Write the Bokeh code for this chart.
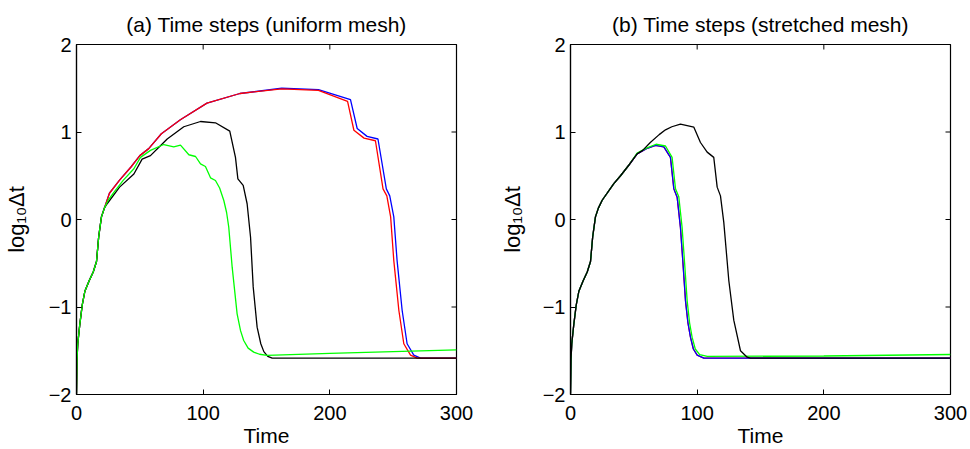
from bokeh.plotting import figure
from bokeh.layouts import row
from bokeh.models import Range1d, FixedTicker
from bokeh.embed import file_html
from bokeh.resources import INLINE

# ---------------- data ----------------
t_early = [0, 0.4, 1, 2.6, 4.5, 6.6, 10, 13.2, 15.8, 17.5, 19.7, 22]
y_early = [-1.99, -1.6, -1.42, -1.2, -0.98, -0.82, -0.7, -0.6, -0.48, -0.2, 0.03, 0.13]

# (a) uniform mesh
a_red_t = [26, 34, 43, 50, 57, 67, 82, 103, 129, 162, 191, 214, 219, 227, 236, 242, 245, 248,
           250.5, 254.5, 258.4, 263.7, 269, 300]
a_red_y = [0.3, 0.45, 0.6, 0.73, 0.81, 0.98, 1.14, 1.33, 1.44, 1.494, 1.475, 1.35, 1.02, 0.93, 0.90,
           0.35, 0.27, 0.03, -0.47, -1.04, -1.42, -1.55, -1.585, -1.585]
a_blue_t = [26, 34, 43, 50, 57, 67, 82, 103, 129, 162, 191, 216.3, 221.6, 229.4, 238, 244.6, 247.3,
            250.5, 253.1, 257.1, 261, 266.3, 271.6, 300]
a_blue_y = [0.3, 0.45, 0.6, 0.73, 0.81, 0.98, 1.14, 1.33, 1.44, 1.50, 1.485, 1.37, 1.04, 0.95, 0.92,
            0.35, 0.27, 0.03, -0.47, -1.04, -1.42, -1.55, -1.585, -1.585]
a_black_t = [24.2, 34, 45.3, 51.8, 58.4, 71.6, 84.7, 97.9, 109.7, 121, 125.5, 127.4, 131.6, 134.7,
             137.4, 139.5, 142.6, 145.5, 147.9, 151, 154.5, 300]
a_black_y = [0.18, 0.37, 0.52, 0.69, 0.73, 0.92, 1.06, 1.12, 1.105, 1.01, 0.71, 0.465, 0.39, 0.18,
             -0.2, -0.77, -1.23, -1.42, -1.51, -1.565, -1.585, -1.585]
a_green_t = [25, 29.5, 37, 45.3, 50.5, 58.4, 68.9, 76.8, 82.1, 88.7, 94, 97.9, 101.8, 105.8, 109.7,
             113, 116.3, 118.5, 120.2, 122.9, 126.8, 129.5, 132, 135.5, 139.9, 144.5, 150.4, 200, 300]
a_green_y = [0.22, 0.31, 0.45, 0.58, 0.71, 0.79, 0.857, 0.83, 0.85, 0.74, 0.72, 0.636, 0.606, 0.476,
             0.446, 0.36, 0.217, 0.08, -0.088, -0.545, -1.078, -1.27, -1.383, -1.47, -1.516, -1.54,
             -1.554, -1.53, -1.49]

# (b) stretched mesh
b_blue_t = [25, 34.2, 39.5, 46, 52.6, 60, 67.1, 73.7, 78.9, 81.6, 84.2, 86.8, 88.8, 90.8, 92.7,
            94.7, 97, 100, 105.3, 300]
b_blue_y = [0.22, 0.41, 0.5, 0.62, 0.75, 0.81, 0.846, 0.83, 0.71, 0.35, 0.255, -0.09, -0.5, -0.93,
            -1.18, -1.345, -1.48, -1.55, -1.585, -1.585]
b_red_t = list(b_blue_t)
b_red_y = list(b_blue_y)
b_green_t = [25, 34.2, 39.5, 46, 52.6, 60, 67.5, 75, 80.2, 82.9, 85.5, 88.1, 90.1, 92.1, 94, 96,
             98.5, 102, 108, 200, 300]
b_green_y = [0.22, 0.41, 0.5, 0.62, 0.76, 0.815, 0.86, 0.84, 0.71, 0.35, 0.26, -0.09, -0.5, -0.93,
             -1.18, -1.345, -1.48, -1.545, -1.565, -1.56, -1.543]
b_black_t = [25, 34.2, 39.5, 46, 52.6, 57, 63, 70, 75, 80, 86.8, 97.4, 102.6, 107.9, 113.1, 115.8,
             118.4, 121, 125, 128.9, 134.2, 139.5, 142, 300]
b_black_y = [0.22, 0.41, 0.5, 0.62, 0.75, 0.79, 0.88, 0.97, 1.025, 1.06, 1.09, 1.055, 0.88, 0.77,
             0.71, 0.37, 0.27, -0.03, -0.70, -1.15, -1.50, -1.574, -1.585, -1.585]

x_ticks = [0, 100, 200, 300]
y_ticks = [-2, -1, 0, 1, 2]
y_tick_labels = {-2: "\u22122", -1: "\u22121", 0: "0", 1: "1", 2: "2"}
titles = ["(a) Time steps (uniform mesh)", "(b) Time steps (stretched mesh)"]
x_label = "Time"
y_label = "log\u2081\u2080\u0394t"

FONT = "Liberation Sans"
RED, BLUE, GREEN, BLACK = "#ff0000", "#0000ff", "#00ff00", "#000000"


def make_fig(title, series, border_left, border_right, lab_standoff):
    p = figure(frame_width=380, frame_height=350, output_backend="svg", toolbar_location=None,
               x_range=Range1d(0, 300), y_range=Range1d(-2, 2),
               min_border_left=border_left, min_border_right=border_right,
               min_border_top=44, min_border_bottom=55)
    p.title.text = title
    p.title.align = "center"
    p.title.text_font = FONT
    p.title.text_font_size = "21px"
    p.title.text_font_style = "normal"
    p.title.text_color = BLACK
    p.title.standoff = 18
    p.grid.visible = False
    p.outline_line_color = BLACK
    p.outline_line_width = 1.2
    p.background_fill_color = "white"
    p.border_fill_color = "white"

    for ax in (p.xaxis[0], p.yaxis[0]):
        ax.major_tick_in = 5
        ax.major_tick_out = 0
        ax.minor_tick_line_color = None
        ax.axis_line_color = BLACK
        ax.axis_line_width = 1.2
        ax.major_tick_line_color = BLACK
        ax.major_label_text_font = FONT
        ax.major_label_text_font_size = "20px"
        ax.major_label_text_color = BLACK
        ax.axis_label_text_font = FONT
        ax.axis_label_text_font_style = "normal"
        ax.axis_label_text_color = BLACK
    p.xaxis.ticker = FixedTicker(ticks=x_ticks)
    p.yaxis.ticker = FixedTicker(ticks=y_ticks)
    p.yaxis.major_label_overrides = y_tick_labels
    p.xaxis.major_label_standoff = 11
    p.yaxis.major_label_standoff = 5
    p.xaxis.axis_label = x_label
    p.xaxis.axis_label_text_font_size = "21px"
    p.xaxis.axis_label_standoff = 1
    p.yaxis.axis_label = y_label
    p.yaxis.axis_label_text_font_size = "22px"
    p.yaxis.axis_label_standoff = lab_standoff

    # inward ticks on the top and right edges (MATLAB box style), clipped to the frame
    p.scatter(x_ticks, [y_ticks[-1]] * len(x_ticks), marker="dash", size=10, angle=1.5708,
              line_color=BLACK, line_width=1)
    p.scatter([x_ticks[-1]] * len(y_ticks), y_ticks, marker="dash", size=10,
              line_color=BLACK, line_width=1)

    for (tt, yy, col) in series:
        p.line(t_early + tt, y_early + yy, line_color=col, line_width=1.3)
    return p


pa = make_fig(titles[0],
              [(a_blue_t, a_blue_y, BLUE), (a_red_t, a_red_y, RED),
               (a_black_t, a_black_y, BLACK), (a_green_t, a_green_y, GREEN)],
              76, 29, 17)
pb = make_fig(titles[1],
              [(b_red_t, b_red_y, RED), (b_blue_t, b_blue_y, BLUE),
               (b_green_t, b_green_y, GREEN), (b_black_t, b_black_y, BLACK)],
              85, 20, 15)

layout = row(pa, pb)
open("out.html", "w").write(file_html(layout, INLINE))
